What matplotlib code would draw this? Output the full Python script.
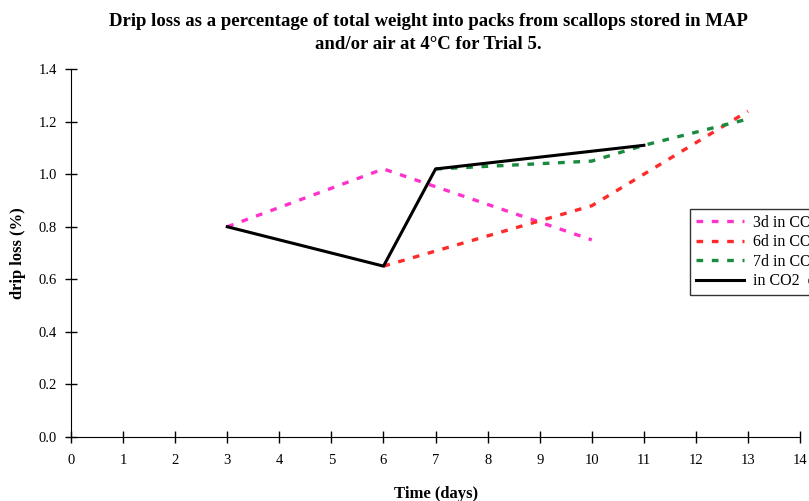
import matplotlib.pyplot as plt

plt.rcParams['font.family'] = ['Liberation Serif', 'DejaVu Serif']

# drip loss (%) per treatment
days_3d = [3, 6, 10]
loss_3d = [0.80, 1.02, 0.75]
days_6d = [6, 10, 13]
loss_6d = [0.65, 0.88, 1.24]
days_7d = [7, 10, 11, 13]
loss_7d = [1.02, 1.05, 1.11, 1.21]
days_co2 = [3, 6, 7, 11]
loss_co2 = [0.80, 0.65, 1.02, 1.11]

labels = ['3d in CO2 then air', '6d in CO2 then air',
          '7d in CO2 then air', 'in CO2  only']

fig = plt.figure(figsize=(8.09, 5.01), dpi=100)
ax = fig.add_axes([0.0878, 0.128, 0.9012, 0.734])

dash = (0, (2.0, 2.6))
ax.plot(days_3d, loss_3d, color='#ff33cc', lw=2.4, linestyle=dash, label=labels[0])
ax.plot(days_6d, loss_6d, color='#ff2a2a', lw=2.4, linestyle=dash, label=labels[1])
ax.plot(days_7d, loss_7d, color='#1a8a3e', lw=2.4, linestyle=dash, label=labels[2])
ax.plot(days_co2, loss_co2, color='black', lw=2.2, label=labels[3])

ax.set_xlim(0, 14)
ax.set_ylim(0, 1.4)
ax.set_xticks(range(0, 15))
ax.set_yticks([0.0, 0.2, 0.4, 0.6, 0.8, 1.0, 1.2, 1.4])
ax.set_yticklabels([f'{v:.1f}' for v in ax.get_yticks()])
ax.spines['top'].set_visible(False)
ax.spines['right'].set_visible(False)
ax.tick_params(direction='inout', length=8, width=1, labelsize=10.5)
ax.tick_params(axis='x', pad=8)
ax.tick_params(axis='y', pad=6)

ax.set_xlabel('Time (days)', fontsize=12, fontweight='bold', labelpad=14)
ax.set_ylabel('drip loss (%)', fontsize=12, fontweight='bold', labelpad=9)
fig.suptitle('Drip loss as a percentage of total weight into packs from scallops stored in MAP\n'
             'and/or air at 4\u00b0C for Trial 5.',
             x=0.53, y=0.975, fontsize=13.5, fontweight='bold', linespacing=1.5)

leg = ax.legend(loc='upper left', bbox_to_anchor=(690 / 809, 1 - 209 / 501),
                bbox_transform=fig.transFigure, fontsize=11.5, frameon=True,
                fancybox=False, edgecolor='black', handlelength=3.0,
                handletextpad=0.6, labelspacing=0.22, borderpad=0.35,
                borderaxespad=0)
leg.get_frame().set_linewidth(1.0)

fig.savefig('out.png', dpi=100)
